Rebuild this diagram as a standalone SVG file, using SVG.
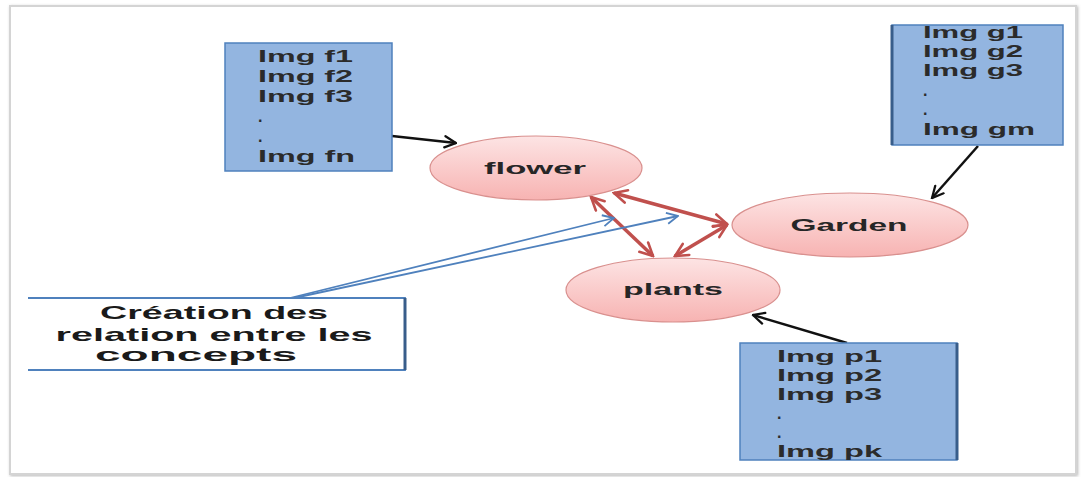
<svg xmlns="http://www.w3.org/2000/svg" width="1082" height="477" viewBox="0 0 1082 477">
<defs>
<linearGradient id="pink" x1="0" y1="0" x2="0" y2="1">
<stop offset="0" stop-color="#fde4e4"/>
<stop offset="1" stop-color="#f7b3b2"/>
</linearGradient>
<marker id="blk" viewBox="0 0 10 10" refX="9" refY="5" markerWidth="14" markerHeight="14" orient="auto" markerUnits="userSpaceOnUse">
<path d="M1,1 L9,5 L1,9" fill="none" stroke="#111" stroke-width="1.6" stroke-linecap="round"/>
</marker>
<marker id="red" viewBox="0 0 10 10" refX="9" refY="5" markerWidth="16" markerHeight="16" orient="auto-start-reverse" markerUnits="userSpaceOnUse">
<path d="M1,1 L9,5 L1,9" fill="none" stroke="#c0504d" stroke-width="1.6" stroke-linecap="round"/>
</marker>
<marker id="blu" viewBox="0 0 10 10" refX="9" refY="5" markerWidth="14" markerHeight="14" orient="auto" markerUnits="userSpaceOnUse">
<path d="M1,1 L9,5 L1,9" fill="none" stroke="#4f81bd" stroke-width="1.3"/>
</marker>
<filter id="sh" x="-5%" y="-5%" width="110%" height="110%">
<feDropShadow dx="1" dy="1" stdDeviation="1.5" flood-color="#888" flood-opacity="0.6"/>
</filter>
</defs>
<style>
.box{fill:#93b5e0;stroke:#4f81bd;stroke-width:1.5}
.boxedge{stroke:#385d8a;stroke-width:3}
.bt{font-family:"Liberation Sans",Arial,sans-serif;font-weight:bold;font-size:16px;fill:#2b2b2b}
.ell{fill:url(#pink);stroke:#d9908e;stroke-width:1.2}
.et{font-family:"Liberation Sans",Arial,sans-serif;font-weight:bold;font-size:16px;fill:#262626;text-anchor:middle}
.lt{font-family:"Liberation Sans",Arial,sans-serif;font-weight:bold;font-size:19px;fill:#1a1a1a;text-anchor:middle}
.rl{stroke:#c0504d;stroke-width:3.5;fill:none}
.bl{stroke:#111;stroke-width:2.5;fill:none}
.ul{stroke:#4f81bd;stroke-width:1.8;fill:none}
</style>
<rect x="0" y="0" width="1082" height="477" fill="#ffffff"/>
<rect x="10" y="6" width="1066" height="468" fill="#ffffff" stroke="#d4d4d4" stroke-width="2" filter="url(#sh)"/>

<g id="connectors">
<line class="bl" x1="392" y1="136" x2="456" y2="143" marker-end="url(#blk)"/>
<line class="bl" x1="978" y1="146" x2="932" y2="198" marker-end="url(#blk)"/>
<line class="bl" x1="847" y1="343" x2="753" y2="315" marker-end="url(#blk)"/>
<line class="rl" x1="591" y1="197" x2="653" y2="256" marker-start="url(#red)" marker-end="url(#red)"/>
<line class="rl" x1="614" y1="193" x2="727" y2="224" marker-start="url(#red)" marker-end="url(#red)"/>
<line class="rl" x1="675" y1="256" x2="727" y2="225" marker-start="url(#red)" marker-end="url(#red)"/>
<line class="ul" x1="290" y1="298" x2="614" y2="218" marker-end="url(#blu)"/>
<line class="ul" x1="294" y1="298" x2="678" y2="216" marker-end="url(#blu)"/>
</g>

<g id="box-flower-images">
<rect class="box" x="225" y="43" width="167" height="128"/>
<text class="bt" x="258" y="62" textLength="95" lengthAdjust="spacingAndGlyphs">Img f1</text>
<text class="bt" x="258" y="82" textLength="95" lengthAdjust="spacingAndGlyphs">Img f2</text>
<text class="bt" x="258" y="102" textLength="95" lengthAdjust="spacingAndGlyphs">Img f3</text>
<text class="bt" x="258" y="122">.</text>
<text class="bt" x="258" y="142">.</text>
<text class="bt" x="258" y="162" textLength="97" lengthAdjust="spacingAndGlyphs">Img fn</text>
</g>

<g id="box-garden-images">
<rect class="box" x="892" y="25" width="171" height="120"/>
<line class="boxedge" x1="892" y1="25" x2="892" y2="145"/>
<text class="bt" x="923" y="38" textLength="100" lengthAdjust="spacingAndGlyphs">Img g1</text>
<text class="bt" x="923" y="57" textLength="100" lengthAdjust="spacingAndGlyphs">Img g2</text>
<text class="bt" x="923" y="76" textLength="100" lengthAdjust="spacingAndGlyphs">Img g3</text>
<text class="bt" x="923" y="96">.</text>
<text class="bt" x="923" y="115">.</text>
<text class="bt" x="923" y="135" textLength="112" lengthAdjust="spacingAndGlyphs">Img gm</text>
</g>

<g id="box-plants-images">
<rect class="box" x="740" y="343" width="217" height="117"/>
<line class="boxedge" x1="957" y1="343" x2="957" y2="460"/>
<text class="bt" x="777" y="362" textLength="105" lengthAdjust="spacingAndGlyphs">Img p1</text>
<text class="bt" x="777" y="381" textLength="105" lengthAdjust="spacingAndGlyphs">Img p2</text>
<text class="bt" x="777" y="400" textLength="105" lengthAdjust="spacingAndGlyphs">Img p3</text>
<text class="bt" x="777" y="419">.</text>
<text class="bt" x="777" y="438">.</text>
<text class="bt" x="777" y="457" textLength="105" lengthAdjust="spacingAndGlyphs">Img pk</text>
</g>

<g id="node-flower">
<ellipse class="ell" cx="536" cy="168" rx="106" ry="32"/>
<text class="et" x="535" y="174" textLength="102" lengthAdjust="spacingAndGlyphs">flower</text>
</g>

<g id="node-garden">
<ellipse class="ell" cx="850" cy="225" rx="118" ry="32"/>
<text class="et" x="849" y="231" textLength="117" lengthAdjust="spacingAndGlyphs">Garden</text>
</g>

<g id="node-plants">
<ellipse class="ell" cx="673" cy="290" rx="107" ry="32"/>
<text class="et" x="673" y="295" textLength="100" lengthAdjust="spacingAndGlyphs">plants</text>
</g>

<g id="label-relations">
<rect x="28" y="298" width="377" height="72" fill="#ffffff"/>
<path d="M28,298 H405 V370 H28" fill="none" stroke="#4f81bd" stroke-width="1.8"/>
<line x1="405" y1="298" x2="405" y2="370" stroke="#385d8a" stroke-width="3"/>
<text class="lt" x="214" y="319" textLength="228" lengthAdjust="spacingAndGlyphs">Création des</text>
<text class="lt" x="214" y="341" textLength="317" lengthAdjust="spacingAndGlyphs">relation entre les</text>
<text class="lt" x="196" y="361" textLength="202" lengthAdjust="spacingAndGlyphs">concepts</text>
</g>
</svg>
